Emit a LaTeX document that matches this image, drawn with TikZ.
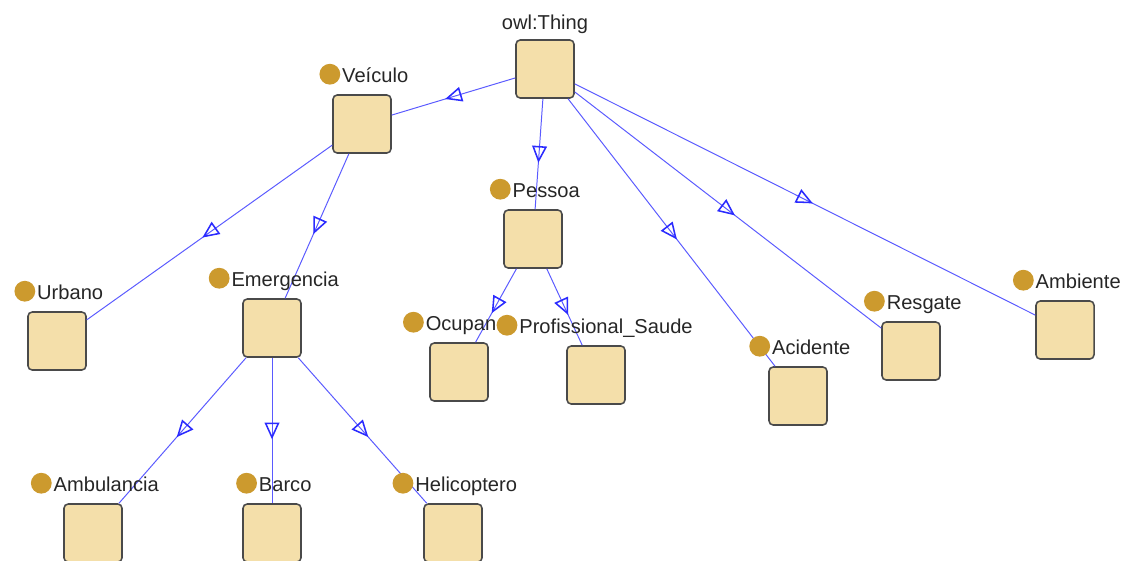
\documentclass[tikz,border=0pt]{standalone}
\usepackage{fontspec}
\setmainfont{Liberation Sans}
\usetikzlibrary{arrows.meta, positioning, decorations.markings}
\definecolor{boxfill}{HTML}{F4DFAA}
\definecolor{boxline}{HTML}{4A4A4A}
\definecolor{dotfill}{HTML}{CC9A2E}
\definecolor{isaline}{HTML}{5A5AFF}
\definecolor{isatip}{HTML}{2B2BFF}

\begin{document}
\begin{tikzpicture}[x=0.025cm, y=-0.025cm,
  cls/.style={rectangle, rounded corners=3pt, draw=boxline, line width=1.1pt,
              fill=boxfill, minimum size=1.45cm, inner sep=0},
  clsname/.style={font=\fontsize{14.3}{16}\selectfont, text=black!85, inner sep=0, anchor=base},
  dot/.style={circle, fill=dotfill, minimum size=0.52cm, inner sep=0, anchor=east},
  isa/.style={draw=isaline, line width=0.7pt, postaction={decorate},
              decoration={markings, mark=at position 0.5 with
                {\arrow[isatip, line width=1.1pt, xshift=0.22cm]{Triangle[open, length=0.42cm, width=0.37cm]}}}}
]
\useasboundingbox (0,0) rectangle (1123,560);

% classes
\node[cls] (thing)       at (545,69)  {};
\node[cls] (veiculo)     at (362,124) {};
\node[cls] (pessoa)      at (533,239) {};
\node[cls] (urbano)      at (57,341)  {};
\node[cls] (emergencia)  at (272,328) {};
\node[cls] (ocupan)      at (459,372) {};
\node[cls] (profsaude)   at (596,375) {};
\node[cls] (acidente)    at (798,396) {};
\node[cls] (resgate)     at (911,351) {};
\node[cls] (ambiente)    at (1065,330) {};
\node[cls] (ambulancia)  at (93,533)  {};
\node[cls] (barco)       at (272,533) {};
\node[cls] (helicoptero) at (453,533) {};

% subclass links
\draw[isa] (thing) -- (veiculo);
\draw[isa] (thing) -- (pessoa);
\draw[isa] (thing) -- (acidente);
\draw[isa] (thing) -- (resgate);
\draw[isa] (thing) -- (ambiente);
\draw[isa] (veiculo) -- (urbano);
\draw[isa] (veiculo) -- (emergencia);
\draw[isa] (pessoa) -- (ocupan);
\draw[isa] (pessoa) -- (profsaude);
\draw[isa] (emergencia) -- (ambulancia);
\draw[isa] (emergencia) -- (barco);
\draw[isa] (emergencia) -- (helicoptero);

% names
\node[clsname] (thingN) at ([yshift=0.25cm]thing.north) {owl:Thing};

\node[clsname] (veiculoN) at ([xshift=0.33cm, yshift=0.3cm]veiculo.north) {Veículo};
\node[dot] at ([xshift=-1pt, yshift=0.2cm]veiculoN.base west) {};
\node[clsname] (pessoaN) at ([xshift=0.33cm, yshift=0.3cm]pessoa.north) {Pessoa};
\node[dot] at ([xshift=-1pt, yshift=0.2cm]pessoaN.base west) {};
\node[clsname] (urbanoN) at ([xshift=0.33cm, yshift=0.3cm]urbano.north) {Urbano};
\node[dot] at ([xshift=-1pt, yshift=0.2cm]urbanoN.base west) {};
\node[clsname] (emergenciaN) at ([xshift=0.33cm, yshift=0.3cm]emergencia.north) {Emergencia};
\node[dot] at ([xshift=-1pt, yshift=0.2cm]emergenciaN.base west) {};
\node[clsname] (ocupanN) at ([xshift=0.05cm, yshift=0.3cm]ocupan.north) {Ocupan};
\node[dot] at ([xshift=-1pt, yshift=0.2cm]ocupanN.base west) {};
\node[clsname] (profsaudeN) at ([xshift=0.25cm, yshift=0.3cm]profsaude.north) {Profissional\_Saude};
\node[dot] at ([xshift=-1pt, yshift=0.2cm]profsaudeN.base west) {};
\node[clsname] (acidenteN) at ([xshift=0.33cm, yshift=0.3cm]acidente.north) {Acidente};
\node[dot] at ([xshift=-1pt, yshift=0.2cm]acidenteN.base west) {};
\node[clsname] (resgateN) at ([xshift=0.33cm, yshift=0.3cm]resgate.north) {Resgate};
\node[dot] at ([xshift=-1pt, yshift=0.2cm]resgateN.base west) {};
\node[clsname] (ambienteN) at ([xshift=0.33cm, yshift=0.3cm]ambiente.north) {Ambiente};
\node[dot] at ([xshift=-1pt, yshift=0.2cm]ambienteN.base west) {};
\node[clsname] (ambulanciaN) at ([xshift=0.33cm, yshift=0.3cm]ambulancia.north) {Ambulancia};
\node[dot] at ([xshift=-1pt, yshift=0.2cm]ambulanciaN.base west) {};
\node[clsname] (barcoN) at ([xshift=0.33cm, yshift=0.3cm]barco.north) {Barco};
\node[dot] at ([xshift=-1pt, yshift=0.2cm]barcoN.base west) {};
\node[clsname] (helicopteroN) at ([xshift=0.33cm, yshift=0.3cm]helicoptero.north) {Helicoptero};
\node[dot] at ([xshift=-1pt, yshift=0.2cm]helicopteroN.base west) {};
\end{tikzpicture}
\end{document}
